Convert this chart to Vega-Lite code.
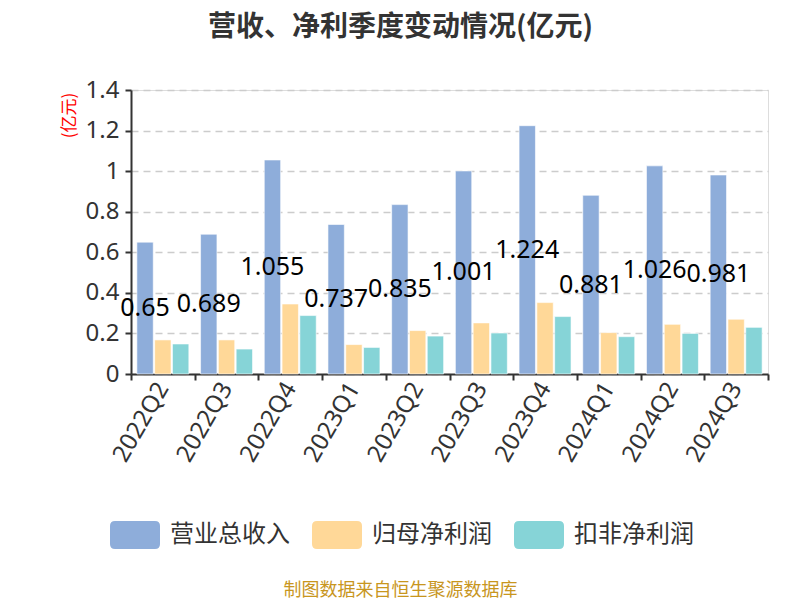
{
  "$schema": "https://vega.github.io/schema/vega-lite/v6.json",
  "width": 637,
  "height": 284,
  "autosize": {"type": "none"},
  "padding": {"left": 131, "top": 90, "right": 32, "bottom": 226},
  "background": "white",
  "title": {
    "text": "营收、净利季度变动情况(亿元)",
    "fontSize": 28,
    "fontWeight": "bold",
    "font": "Noto Sans CJK SC",
    "color": "#333333",
    "anchor": "middle",
    "frame": "group",
    "dx": -49,
    "offset": 36
  },
  "data": {
    "values": [
      {"q": "2022Q2", "series": "营业总收入", "value": 0.65},
      {"q": "2022Q2", "series": "归母净利润", "value": 0.168},
      {"q": "2022Q2", "series": "扣非净利润", "value": 0.148},
      {"q": "2022Q3", "series": "营业总收入", "value": 0.689},
      {"q": "2022Q3", "series": "归母净利润", "value": 0.168},
      {"q": "2022Q3", "series": "扣非净利润", "value": 0.123},
      {"q": "2022Q4", "series": "营业总收入", "value": 1.055},
      {"q": "2022Q4", "series": "归母净利润", "value": 0.345},
      {"q": "2022Q4", "series": "扣非净利润", "value": 0.288},
      {"q": "2023Q1", "series": "营业总收入", "value": 0.737},
      {"q": "2023Q1", "series": "归母净利润", "value": 0.145},
      {"q": "2023Q1", "series": "扣非净利润", "value": 0.131},
      {"q": "2023Q2", "series": "营业总收入", "value": 0.835},
      {"q": "2023Q2", "series": "归母净利润", "value": 0.214},
      {"q": "2023Q2", "series": "扣非净利润", "value": 0.187},
      {"q": "2023Q3", "series": "营业总收入", "value": 1.001},
      {"q": "2023Q3", "series": "归母净利润", "value": 0.252},
      {"q": "2023Q3", "series": "扣非净利润", "value": 0.202},
      {"q": "2023Q4", "series": "营业总收入", "value": 1.224},
      {"q": "2023Q4", "series": "归母净利润", "value": 0.352},
      {"q": "2023Q4", "series": "扣非净利润", "value": 0.283},
      {"q": "2024Q1", "series": "营业总收入", "value": 0.881},
      {"q": "2024Q1", "series": "归母净利润", "value": 0.204},
      {"q": "2024Q1", "series": "扣非净利润", "value": 0.184},
      {"q": "2024Q2", "series": "营业总收入", "value": 1.026},
      {"q": "2024Q2", "series": "归母净利润", "value": 0.245},
      {"q": "2024Q2", "series": "扣非净利润", "value": 0.2},
      {"q": "2024Q3", "series": "营业总收入", "value": 0.981},
      {"q": "2024Q3", "series": "归母净利润", "value": 0.27},
      {"q": "2024Q3", "series": "扣非净利润", "value": 0.23}
    ]
  },
  "encoding": {
    "x": {
      "field": "q",
      "type": "nominal",
      "sort": null,
      "scale": {"paddingInner": 0, "paddingOuter": 0},
      "axis": {
        "title": "制图数据来自恒生聚源数据库",
        "titleColor": "#C8961E",
        "titleFont": "Noto Sans CJK SC",
        "titleFontSize": 18,
        "titleFontWeight": "normal",
        "titleX": 269,
        "titleY": 216,
        "titleAlign": "center",
        "titleBaseline": "middle",
        "labelAngle": -60,
        "labelFontSize": 24,
        "labelFont": "Noto Sans",
        "labelColor": "#333333",
        "labelPadding": 4,
        "domainColor": "#333333",
        "domainWidth": 2,
        "tickColor": "#333333",
        "tickWidth": 2,
        "tickSize": 6,
        "tickBand": "extent",
        "grid": false
      }
    },
    "xOffset": {
      "field": "series",
      "type": "nominal",
      "sort": ["营业总收入", "归母净利润", "扣非净利润"],
      "scale": {"paddingInner": 0.08, "paddingOuter": 0.33}
    }
  },
  "layer": [
    {
      "mark": {"type": "bar", "stroke": "white", "strokeWidth": 0.6},
      "encoding": {
        "y": {
          "field": "value",
          "type": "quantitative",
          "scale": {"domain": [0, 1.4], "nice": false},
          "axis": {
            "values": [0, 0.2, 0.4, 0.6, 0.8, 1, 1.2, 1.4],
            "format": "~g",
            "title": "(亿元)",
            "titleColor": "red",
            "titleFont": "Noto Sans CJK SC",
            "titleFontSize": 17,
            "titleFontWeight": "normal",
            "titleAngle": -90,
            "titleX": -62,
            "titleY": 25,
            "titleAlign": "center",
            "titleBaseline": "middle",
            "labelFontSize": 24,
            "labelFont": "Noto Sans",
            "labelColor": "#333333",
            "labelPadding": 6,
            "domainColor": "#333333",
            "domainWidth": 2,
            "tickColor": "#333333",
            "tickWidth": 2,
            "tickSize": 6,
            "grid": true,
            "gridColor": "#cccccc",
            "gridDash": [7, 5],
            "gridWidth": 1.5
          }
        },
        "color": {
          "field": "series",
          "type": "nominal",
          "sort": ["营业总收入", "归母净利润", "扣非净利润"],
          "scale": {
            "domain": ["营业总收入", "归母净利润", "扣非净利润"],
            "range": ["#8EADDA", "#FFD898", "#86D4D7"]
          },
          "legend": {
            "title": null,
            "orient": "none",
            "direction": "horizontal",
            "legendX": -21,
            "legendY": 420,
            "symbolType": "M-0.8,-0.56 L0.8,-0.56 Q1,-0.56 1,-0.36 L1,0.36 Q1,0.56 0.8,0.56 L-0.8,0.56 Q-1,0.56 -1,0.36 L-1,-0.36 Q-1,-0.56 -0.8,-0.56 Z",
            "symbolSize": 2500,
            "symbolStrokeWidth": 0,
            "symbolOpacity": 1,
            "labelFontSize": 24,
            "labelFont": "Noto Sans CJK SC",
            "labelColor": "#333333",
            "labelOffset": 10,
            "columnPadding": 22
          }
        }
      }
    },
    {
      "transform": [
        {"filter": "datum.series === '营业总收入'"},
        {"calculate": "datum.value / 2", "as": "mid"}
      ],
      "mark": {"type": "text", "fontSize": 25, "font": "Noto Sans", "color": "#000000", "align": "center", "baseline": "middle"},
      "encoding": {
        "y": {"field": "mid", "type": "quantitative"},
        "text": {"field": "value", "type": "quantitative", "format": "~g"}
      }
    }
  ]
}
